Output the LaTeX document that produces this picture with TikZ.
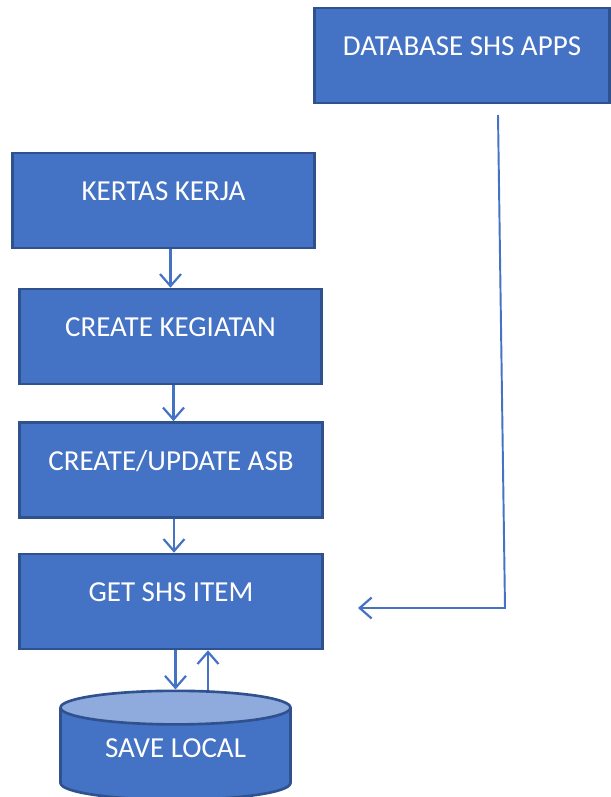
\documentclass[tikz,border=0pt]{standalone}
\usepackage{fontspec}
\setmainfont{Carlito}
\usepackage{xcolor}
\usetikzlibrary{shapes.geometric,arrows.meta,positioning}

\definecolor{boxblue}{HTML}{4472C4}
\definecolor{edgeblue}{HTML}{2F528F}
\definecolor{topblue}{HTML}{8FAADC}

\begin{document}
\begin{tikzpicture}[x=0.02cm, y=-0.02cm,
    box/.style={rectangle, draw=edgeblue, fill=boxblue, line width=1.5pt, text=white, minimum width=6.05cm, minimum height=1.9cm, text height=0.45cm, text depth=0.45cm, font=\fontsize{16.5}{18}\selectfont},
    store/.style={cylinder, shape border rotate=90, aspect=0.22, draw=edgeblue, line width=1.5pt, cylinder uses custom fill, cylinder body fill=boxblue, cylinder end fill=topblue, text=white, minimum width=4.6cm, minimum height=2.18cm, text height=0.45cm, text depth=0.45cm, font=\fontsize{16.5}{18}\selectfont},
    arrow/.style={-{Straight Barb[length=0.24cm, width=0.42cm, line width=1.25pt]}, draw=boxblue, line width=1.25pt},
    link/.style={-{Straight Barb[length=0.24cm, width=0.42cm, line width=1.25pt]}, draw=boxblue, line width=1.1pt}
]
    \useasboundingbox (0,0) rectangle (611,797);

    % sumber data
    \node[box, minimum width=5.9cm] (db) at (462,55.5) {DATABASE SHS APPS};

    % alur utama
    \node[box] (kertas) at (163.5,200.5) {KERTAS KERJA};
    \node[box] (kegiatan) at (170.5,336.5) {CREATE KEGIATAN};
    \node[box] (asb) at (171,470) {CREATE/UPDATE ASB};
    \node[box] (get) at (171,601.5) {GET SHS ITEM};
    \node[store] (save) at (175.5,757) {SAVE LOCAL};

    % panah antar langkah
    \draw[arrow] (kertas.south -| kegiatan.north) -- (kegiatan.north);
    \draw[arrow] ([xshift=0.05cm]kegiatan.south -| asb.north) -- ([xshift=0.05cm]asb.north);
    \draw[arrow] ([xshift=0.06cm]asb.south) -- ([xshift=0.06cm]get.north);
    \draw[arrow] (get.south -| save.north) -- (save.north);
    \draw[arrow] ([xshift=0.65cm]save.north) -- ([xshift=0.65cm]save.north |- get.south);

    % ambil data dari database
    \coordinate (dbout) at (498,115);
    \coordinate (dbturn) at (505,608);
    \coordinate (getin) at (358,608);
    \draw[link] (dbout) -- (dbturn) -- (getin);
\end{tikzpicture}
\end{document}
